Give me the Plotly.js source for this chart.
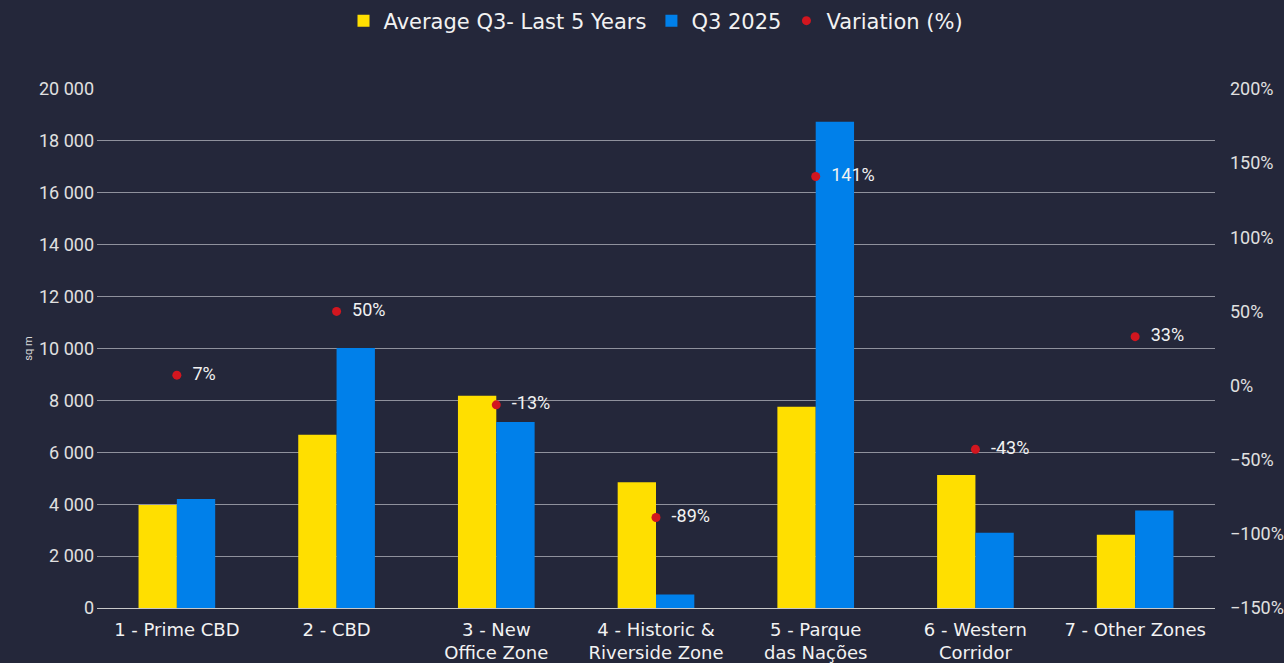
<!DOCTYPE html>
<html>
<head>
<meta charset="utf-8">
<script src="https://cdn.plot.ly/plotly-3.0.1.min.js"></script>
<style>
  html, body { margin: 0; padding: 0; background: #24273a; }
  #chart { width: 1284px; height: 663px; }
</style>
</head>
<body>
<div id="chart"></div>
<script>
// zones along the x axis
var zones = [
  "1 - Prime CBD",
  "2 - CBD",
  "3 - New<br>Office Zone",
  "4 - Historic &<br>Riverside Zone",
  "5 - Parque<br>das Nações",
  "6 - Western<br>Corridor",
  "7 - Other Zones"
];

// take-up, sq m
var avgQ3Last5 = [3970, 6680, 8180, 4850, 7760, 5130, 2820];
var q3_2025 = [4200, 10020, 7170, 520, 18740, 2900, 3760];

// variation in %
var variation = [7, 50, -13, -89, 141, -43, 33];
var variationLabels = variation.map(function (v) { return "\u00a0\u00a0" + v + "%"; });

var yTicks = [0, 2000, 4000, 6000, 8000, 10000, 12000, 14000, 16000, 18000, 20000];
var yTickText = ["0", "2 000", "4 000", "6 000", "8 000", "10 000", "12 000", "14 000", "16 000", "18 000", "20 000"];

var bg = "#24273a";

var avgTrace = {
  x: zones,
  y: avgQ3Last5,
  name: "Average Q3- Last 5 Years",
  type: "bar",
  marker: { color: "#ffdf00" },
  hoverinfo: "y"
};

var q3Trace = {
  x: zones,
  y: q3_2025,
  name: "Q3 2025",
  type: "bar",
  marker: { color: "#0080ea" },
  hoverinfo: "y"
};

var varTrace = {
  x: zones,
  y: variation,
  name: "Variation (%)",
  type: "scatter",
  mode: "markers+text",
  yaxis: "y2",
  text: variationLabels,
  textposition: "middle right",
  textfont: { color: "#f2f2f2", size: 18, family: "Roboto, sans-serif" },
  marker: { color: "#d2161f", size: 9 },
  cliponaxis: false
};

var layout = {
  width: 1284,
  height: 663,
  paper_bgcolor: bg,
  plot_bgcolor: bg,
  margin: { l: 97, r: 69, t: 89, b: 55, autoexpand: false },
  font: { family: "Roboto, sans-serif", color: "#e6e6e6" },
  barmode: "group",
  bargap: 0.52,
  bargroupgap: 0,
  showlegend: true,
  legend: {
    orientation: "h",
    x: 0.5,
    xanchor: "center",
    y: 1.131,
    yanchor: "middle",
    font: { size: 21, color: "#f2f2f2", family: "'DejaVu Sans', sans-serif" },
    itemwidth: 30,
    traceorder: "normal"
  },
  xaxis: {
    tickfont: { size: 18, color: "#f2f2f2", family: "'DejaVu Sans', sans-serif" },
    showline: true,
    linecolor: "#c8c8c8",
    linewidth: 1,
    ticks: "",
    showgrid: false,
    zeroline: false,
    ticklabelstandoff: 5
  },
  yaxis: {
    range: [0, 20000],
    tickvals: yTicks,
    ticktext: yTickText,
    tickfont: { size: 18, color: "#e0e0e0" },
    gridcolor: "#8f919c",
    gridwidth: 1,
    zeroline: false,
    ticks: "",
    ticklabelstandoff: 2,
    title: { text: "sq m", font: { size: 11, color: "#d9d9d9" }, standoff: 4 }
  },
  yaxis2: {
    overlaying: "y",
    side: "right",
    range: [-150, 200],
    dtick: 50,
    ticksuffix: "%",
    tickfont: { size: 18, color: "#e0e0e0" },
    showgrid: false,
    zeroline: false,
    ticks: "",
    ticklabelstandoff: 14
  }
};

Plotly.newPlot("chart", [avgTrace, q3Trace, varTrace], layout, { displayModeBar: false, staticPlot: true });
</script>
</body>
</html>
